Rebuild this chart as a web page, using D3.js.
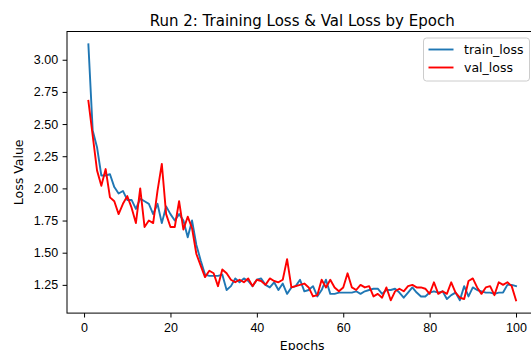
<!DOCTYPE html>
<html lang="en">
<head>
    <meta charset="UTF-8">
    <title>Run 2: Training Loss & Val Loss by Epoch</title>
    <script src="https://d3js.org/d3.v7.min.js"></script>
    <style>
        body { margin: 0; background: #fff; }
        svg { display: block; font-family: "DejaVu Sans", sans-serif; }
        .axis text { font-size: 12.5px; fill: #000; }
        .axis line, .axis path { stroke: #000; stroke-width: 1px; }
    </style>
</head>
<body>
    <svg id="chart" width="531" height="350"></svg>

    <script>
        // values (epochs 1..100)
        const trainLoss = [
            3.12, 2.45, 2.32, 2.10, 2.10, 2.11, 2.01, 1.96, 1.98, 1.91,
            1.91, 1.84, 1.92, 1.90, 1.88, 1.80, 1.88, 1.73, 1.86, 1.80,
            1.75, 1.80, 1.75, 1.62, 1.75, 1.56, 1.44, 1.33, 1.32, 1.32,
            1.32, 1.33, 1.21, 1.24, 1.30, 1.27, 1.30, 1.28, 1.24, 1.29,
            1.30, 1.25, 1.23, 1.27, 1.21, 1.26, 1.18, 1.23, 1.24, 1.29,
            1.20, 1.21, 1.24, 1.16, 1.21, 1.29, 1.18, 1.18, 1.19, 1.19,
            1.19, 1.19, 1.20, 1.18, 1.20, 1.21, 1.22, 1.22, 1.18, 1.21,
            1.21, 1.22, 1.19, 1.15, 1.19, 1.23, 1.19, 1.16, 1.16, 1.19,
            1.20, 1.19, 1.20, 1.14, 1.17, 1.19, 1.13, 1.24, 1.16, 1.23,
            1.21, 1.20, 1.19, 1.19, 1.18, 1.19, 1.19, 1.25, 1.25, 1.24
        ];
        const valLoss = [
            2.68, 2.41, 2.14, 2.02, 2.15, 1.93, 1.90, 1.80, 1.88, 1.94,
            1.85, 1.73, 2.00, 1.70, 1.75, 1.73, 1.98, 2.19, 1.80, 1.70,
            1.70, 1.90, 1.68, 1.78, 1.69, 1.49, 1.40, 1.31, 1.36, 1.34,
            1.24, 1.37, 1.34, 1.29, 1.27, 1.29, 1.27, 1.30, 1.24, 1.29,
            1.28, 1.25, 1.30, 1.28, 1.27, 1.29, 1.45, 1.23, 1.24, 1.25,
            1.26, 1.23, 1.16, 1.17, 1.29, 1.23, 1.29, 1.23, 1.20, 1.23,
            1.34, 1.23, 1.21, 1.25, 1.23, 1.24, 1.16, 1.18, 1.15, 1.23,
            1.13, 1.20, 1.22, 1.20, 1.24, 1.25, 1.23, 1.23, 1.22, 1.18,
            1.27, 1.18, 1.20, 1.18, 1.27, 1.19, 1.15, 1.14, 1.28, 1.30,
            1.23, 1.18, 1.23, 1.24, 1.17, 1.27, 1.25, 1.27, 1.24, 1.13
        ];
        const xTicks = [0, 20, 40, 60, 80, 100];
        const yTicks = [1.25, 1.50, 1.75, 2.00, 2.25, 2.50, 2.75, 3.00];
        const seriesNames = ["train_loss", "val_loss"];
        const seriesColors = ["#1f77b4", "#ff0000"];

        const svg = d3.select("#chart");

        // plot box (right spine falls just outside the picture, as in the reference)
        const plotLeft = 67, plotRight = 537.4, plotTop = 31.5, plotBottom = 313.1;

        const epochs = trainLoss.map((d, i) => i + 1);
        const allVals = trainLoss.concat(valLoss);

        // matplotlib-like 5% margins
        const xPad = (d3.max(epochs) - d3.min(epochs)) * 0.05;
        const yMin = d3.min(allVals), yMax = d3.max(allVals);
        const yPad = (yMax - yMin) * 0.05;

        const x = d3.scaleLinear()
            .domain([d3.min(epochs) - xPad, d3.max(epochs) + xPad])
            .range([plotLeft, plotRight]);
        const y = d3.scaleLinear()
            .domain([yMin - yPad, yMax + yPad])
            .range([plotBottom, plotTop]);

        // lines
        const line = d3.line()
            .x((d, i) => x(epochs[i]))
            .y(d => y(d));

        [trainLoss, valLoss].forEach((series, k) => {
            svg.append("path")
                .datum(series)
                .attr("fill", "none")
                .attr("stroke", seriesColors[k])
                .attr("stroke-width", 1.9)
                .attr("stroke-linejoin", "round")
                .attr("stroke-linecap", "square")
                .attr("d", line);
        });

        // axes
        const xAxis = d3.axisBottom(x)
            .tickValues(xTicks)
            .tickFormat(d3.format("d"))
            .tickSize(4.4)
            .tickSizeOuter(0)
            .tickPadding(5.8);
        const yAxis = d3.axisLeft(y)
            .tickValues(yTicks)
            .tickFormat(d3.format(".2f"))
            .tickSize(4.4)
            .tickSizeOuter(0)
            .tickPadding(4.4);

        svg.append("g")
            .attr("class", "axis")
            .attr("transform", `translate(0,${plotBottom})`)
            .call(xAxis)
            .call(g => g.select(".domain").remove());
        svg.append("g")
            .attr("class", "axis")
            .attr("transform", `translate(${plotLeft},0)`)
            .call(yAxis)
            .call(g => g.select(".domain").remove());

        // frame (4 spines)
        svg.append("rect")
            .attr("x", plotLeft)
            .attr("y", plotTop)
            .attr("width", plotRight - plotLeft)
            .attr("height", plotBottom - plotTop)
            .attr("fill", "none")
            .attr("stroke", "#000")
            .attr("stroke-width", 1);

        // title and axis labels
        svg.append("text")
            .attr("x", (plotLeft + plotRight) / 2)
            .attr("y", 25.5)
            .attr("text-anchor", "middle")
            .attr("font-size", 15)
            .text("Run 2: Training Loss & Val Loss by Epoch");

        // the reference crops this label at the bottom edge too
        svg.append("text")
            .attr("x", (plotLeft + plotRight) / 2)
            .attr("y", 349.5)
            .attr("text-anchor", "middle")
            .attr("font-size", 12.5)
            .text("Epochs");

        svg.append("text")
            .attr("transform", `translate(22.5,${(plotTop + plotBottom) / 2}) rotate(-90)`)
            .attr("text-anchor", "middle")
            .attr("font-size", 12.5)
            .text("Loss Value");

        // legend
        const legend = svg.append("g").attr("transform", "translate(423.5,38)");
        legend.append("rect")
            .attr("width", 106)
            .attr("height", 43)
            .attr("rx", 3)
            .attr("fill", "#fff")
            .attr("fill-opacity", 0.8)
            .attr("stroke", "#cccccc")
            .attr("stroke-width", 1);

        seriesNames.forEach((name, k) => {
            const row = legend.append("g").attr("transform", `translate(0,${11.5 + k * 18})`);
            row.append("line")
                .attr("x1", 5)
                .attr("x2", 30)
                .attr("stroke", seriesColors[k])
                .attr("stroke-width", 1.9);
            row.append("text")
                .attr("x", 40.5)
                .attr("dy", "0.35em")
                .attr("font-size", 12.5)
                .text(name);
        });
    </script>
</body>
</html>
